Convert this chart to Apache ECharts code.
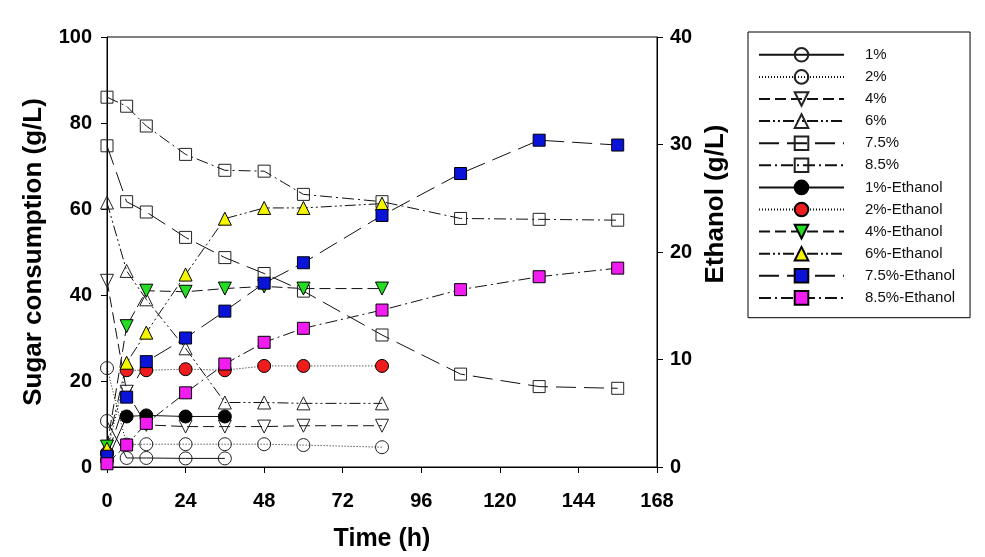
<!DOCTYPE html>
<html>
<head>
<meta charset="utf-8">
<script src="https://cdn.jsdelivr.net/npm/echarts@6/dist/echarts.min.js"></script>
<style>html,body{margin:0;padding:0;background:#fff;}#c{width:985px;height:557px;}</style>
</head>
<body>
<div id="c"></div>
<script>
// ---- data ----
const time = [0, 6, 12, 24, 36, 48, 60, 84, 108, 132, 156];
const xTicks = [0, 24, 48, 72, 96, 120, 144, 168];
const labels = ['1%', '2%', '4%', '6%', '7.5%', '8.5%'];
// sugar consumption (g/L)
const sugar1 = [10.7, 2.1, 2.1, 2.0, 2.0];
const sugar2 = [23.0, 5.2, 5.3, 5.3, 5.3, 5.3, 5.1, 4.6];
const sugar4 = [43.3, 17.5, 9.8, 9.4, 9.4, 9.4, 9.6, 9.6];
const sugar6 = [61.5, 45.6, 39.0, 27.6, 15.0, 15.0, 14.8, 14.8];
const sugar75 = [74.7, 61.7, 59.3, 53.4, 48.7, 45.0, 40.9, 30.7, 21.6, 18.7, 18.3];
const sugar85 = [86.0, 83.9, 79.3, 72.7, 69.0, 68.8, 63.4, 61.7, 57.8, 57.6, 57.4];
// ethanol (g/L)
const eth1 = [0.6, 4.7, 4.8, 4.7, 4.7];
const eth2 = [1.3, 9.0, 9.0, 9.1, 9.0, 9.4, 9.4, 9.4];
const eth4 = [1.9, 13.1, 16.4, 16.3, 16.6, 16.8, 16.6, 16.6];
const eth6 = [1.7, 9.7, 12.5, 17.9, 23.1, 24.1, 24.1, 24.5];
const eth75 = [1.0, 6.5, 9.8, 12.0, 14.5, 17.1, 19.0, 23.4, 27.3, 30.4, 29.95];
const eth85 = [0.3, 2.05, 4.06, 6.9, 9.58, 11.6, 12.9, 14.6, 16.5, 17.7, 18.5];

const sugarSets = [sugar1, sugar2, sugar4, sugar6, sugar75, sugar85];
const ethSets = [eth1, eth2, eth4, eth6, eth75, eth85];

// ---- styles ----
const dashes = ['solid', [1, 2], [11, 5], [11, 3, 2, 3, 2, 3], [20, 8], [12, 4, 2, 4]];
const symbols = ['circle', 'circle', 'path://M0,0L10,0L5,10Z', 'triangle', 'rect', 'rect'];
const symSizes = [13, 13, 13, 13, 12, 12];
const ethColors = ['#000000', '#ee1c1c', '#22dd22', '#f5f500', '#0a14d8', '#f01cf0'];

const narrow = "'Liberation Sans Narrow', 'Arial Narrow', 'Liberation Sans', Arial, sans-serif";
const sans = "'Liberation Sans', Arial, sans-serif";

function pairs(vals) { return vals.map((v, i) => [time[i], v]); }

const series = [];
sugarSets.forEach((vals, k) => {
  series.push({
    name: labels[k], type: 'line', yAxisIndex: 0, data: pairs(vals),
    symbol: symbols[k], symbolSize: symSizes[k], clip: false,
    lineStyle: { color: '#111', width: 1, type: dashes[k] },
    itemStyle: { color: 'rgba(0,0,0,0)', borderColor: '#222', borderWidth: 1 },
    emphasis: { disabled: true }, animation: false
  });
});
ethSets.forEach((vals, k) => {
  series.push({
    name: labels[k] + '-Ethanol', type: 'line', yAxisIndex: 1, data: pairs(vals),
    symbol: symbols[k], symbolSize: symSizes[k], clip: false,
    lineStyle: { color: '#111', width: 1, type: dashes[k] },
    itemStyle: { color: ethColors[k], borderColor: '#000', borderWidth: 1 },
    emphasis: { disabled: true }, animation: false
  });
});

const axisCommon = {
  axisLine: { show: true, lineStyle: { color: '#000', width: 1 } },
  axisTick: { show: true, inside: false, length: 6, lineStyle: { color: '#000' } },
  splitLine: { show: false }
};

const chart = echarts.init(document.getElementById('c'));
chart.setOption({
  backgroundColor: '#fff',
  animation: false,
  grid: { left: 107, right: 328, top: 37, bottom: 90, show: true, borderColor: '#000', borderWidth: 1, backgroundColor: 'transparent' },
  legend: {
    orient: 'vertical', left: 748, top: 32,
    data: series.map(s => s.name),
    itemWidth: 85, itemHeight: 17, itemGap: 6.5,
    padding: [15, 15, 12, 10],
    borderColor: '#000', borderWidth: 1, backgroundColor: '#fff',
    textStyle: { fontFamily: sans, fontSize: 15, color: '#111', padding: [0, 0, 0, 16] },
    selectedMode: false
  },
  xAxis: Object.assign({
    type: 'value', min: xTicks[0], max: xTicks[xTicks.length - 1], interval: 24,
    name: 'Time (h)', nameLocation: 'middle', nameGap: 60,
    nameTextStyle: { fontFamily: sans, fontWeight: 'bold', fontSize: 25, color: '#000' },
    axisLabel: { margin: 24, fontFamily: narrow, fontWeight: 'bold', fontSize: 20, color: '#000' }
  }, axisCommon),
  yAxis: [
    Object.assign({
      type: 'value', min: 0, max: 100, interval: 20, position: 'left',
      name: 'Sugar consumption (g/L)', nameLocation: 'middle', nameGap: 60, nameRotate: 90,
      nameTextStyle: { fontFamily: sans, fontWeight: 'bold', fontSize: 26, color: '#000' },
      axisLabel: { margin: 15, fontFamily: narrow, fontWeight: 'bold', fontSize: 20, color: '#000' }
    }, axisCommon),
    Object.assign({
      type: 'value', min: 0, max: 40, interval: 10, position: 'right',
      name: 'Ethanol (g/L)', nameLocation: 'middle', nameGap: 46, nameRotate: 90,
      nameTextStyle: { fontFamily: sans, fontWeight: 'bold', fontSize: 26, color: '#000', padding: [0, 0, 0, 96] },
      axisLabel: { margin: 13, fontFamily: narrow, fontWeight: 'bold', fontSize: 20, color: '#000' }
    }, axisCommon)
  ],
  series: series
});
</script>
</body>
</html>
